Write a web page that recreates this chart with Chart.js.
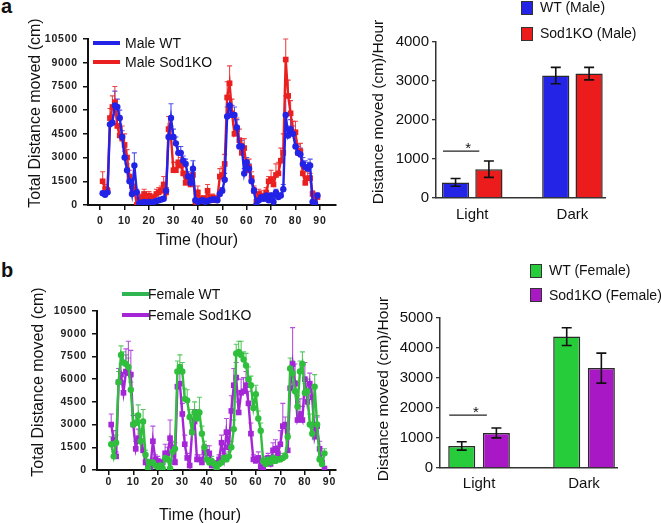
<!DOCTYPE html>
<html lang="en">
<head>
<meta charset="UTF-8">
<title>Locomotor activity WT vs Sod1KO</title>
<script src="https://cdn.jsdelivr.net/npm/chart.js"></script>
<style>
  body { margin: 0; width: 661px; height: 523px; position: relative; background: #fff; overflow: hidden;
         font-family: Arial, "Liberation Sans", Helvetica, sans-serif; color: #111; }
  canvas { position: absolute; }
  .t { position: absolute; white-space: nowrap; transform: translate(0, -50%); font-size: 14px; }
  .c { position: absolute; white-space: nowrap; transform: translate(-50%, -50%); font-size: 16px; }
  .v { position: absolute; white-space: nowrap; transform: translate(-50%, -50%) rotate(-90deg); font-size: 16px; }
  .letter { position: absolute; font-weight: bold; font-size: 20px; line-height: 20px; }
  .sw { position: absolute; width: 27px; height: 4px; transform: translate(0, -50%); }
  .sq { position: absolute; width: 10px; height: 12px; border: 1px solid #333; }
</style>
</head>
<body>

<div class="letter" style="left:1px; top:-4px;">a</div>
<div class="letter" style="left:1px; top:260px;">b</div>

<canvas id="lineA" width="340" height="255" style="left:0; top:0;"></canvas>
<canvas id="barA" width="321" height="255" style="left:340px; top:0;"></canvas>
<canvas id="lineB" width="340" height="258" style="left:0; top:265px;"></canvas>
<canvas id="barB" width="321" height="258" style="left:340px; top:265px;"></canvas>

<!-- axis titles -->
<div class="v" style="left:35px; top:113px;">Total Distance moved (cm)</div>
<div class="c" style="left:197px; top:240px;">Time (hour)</div>
<div class="v" style="left:378px; top:112px; font-size:15.5px;">Distance moved (cm)/Hour</div>
<div class="v" style="left:38px; top:382px;">Total Distance moved (cm)</div>
<div class="c" style="left:200px; top:515px;">Time (hour)</div>
<div class="v" style="left:383px; top:389px; font-size:15.5px;">Distance moved (cm)/Hour</div>

<!-- legends -->
<div class="sw" style="left:93px; top:43px; background:#2323e8;"></div>
<div class="t" style="left:125px; top:43px;">Male WT</div>
<div class="sw" style="left:93px; top:62px; background:#ea2020;"></div>
<div class="t" style="left:125px; top:62px;">Male Sod1KO</div>

<div class="sw" style="left:122px; top:294px; background:#2fb552;"></div>
<div class="t" style="left:148px; top:294px;">Female WT</div>
<div class="sw" style="left:122px; top:315px; background:#a426d6;"></div>
<div class="t" style="left:148px; top:315px;">Female Sod1KO</div>

<div class="sq" style="left:521px; top:1px; background:#2424e6;"></div>
<div class="t" style="left:540px; top:7px;">WT (Male)</div>
<div class="sq" style="left:521px; top:27px; background:#ec1c1c;"></div>
<div class="t" style="left:540px; top:33px;">Sod1KO (Male)</div>

<div class="sq" style="left:530px; top:264px; background:#27cc3a;"></div>
<div class="t" style="left:549px; top:270px;">WT (Female)</div>
<div class="sq" style="left:530px; top:288px; background:#a818c4;"></div>
<div class="t" style="left:549px; top:295px;">Sod1KO (Female)</div>

<script>
// ---- time course data (hourly means, upward SEM) ----
var hoursMale = [1, 2, 3, 4, 5, 6, 7, 8, 9, 10,
  11, 12, 13, 14, 15, 16, 17, 18, 19, 20,
  21, 22, 23, 24, 25, 26, 27, 28, 29, 30,
  31, 32, 33, 34, 35, 36, 37, 38, 39, 40,
  41, 42, 43, 44, 45, 46, 47, 48, 49, 50,
  51, 52, 53, 54, 55, 56, 57, 58, 59, 60,
  61, 62, 63, 64, 65, 66, 67, 68, 69, 70,
  71, 72, 73, 74, 75, 76, 77, 78, 79, 80,
  81, 82, 83, 84, 85, 86, 87, 88, 89];
var hoursFemale = [1, 2, 3, 4, 5, 6, 7, 8, 9, 10,
  11, 12, 13, 14, 15, 16, 17, 18, 19, 20,
  21, 22, 23, 24, 25, 26, 27, 28, 29, 30,
  31, 32, 33, 34, 35, 36, 37, 38, 39, 40,
  41, 42, 43, 44, 45, 46, 47, 48, 49, 50,
  51, 52, 53, 54, 55, 56, 57, 58, 59, 60,
  61, 62, 63, 64, 65, 66, 67, 68, 69, 70,
  71, 72, 73, 74, 75, 76, 77, 78, 79, 80,
  81, 82, 83, 84, 85, 86, 87, 88];
var timeTicks = [0, 10, 20, 30, 40, 50, 60, 70, 80, 90];
var distTicks = [0, 1500, 3000, 4500, 6000, 7500, 9000, 10500];

var maleWT = [750, 650, 800, 5100, 5200, 6300, 6200, 5500, 4300, 3000,
  2200, 1500, 700, 2500, 800, 100, 150, 200, 150, 200,
  150, 200, 250, 300, 350, 400, 900, 4300, 5500, 4300,
  3900, 3300, 3300, 2800, 2600, 1800, 1400, 2300, 300, 200,
  250, 300, 200, 250, 300, 350, 350, 300, 700, 900,
  1600, 5600, 6300, 5700, 5700, 4900, 3700, 3700, 2000, 2700,
  2300, 1500, 900, 0, 300, 500, 400, 600, 300, 600,
  200, 800, 500, 600, 1000, 5700, 4400, 4800, 4500, 3700,
  3300, 3200, 2600, 2400, 2300, 2500, 200, 100, 600];
var maleWTErr = [100, 100, 150, 500, 500, 900, 500, 500, 400, 400,
  400, 300, 200, 800, 200, 50, 50, 60, 50, 60,
  50, 60, 60, 80, 80, 100, 200, 500, 900, 500,
  400, 400, 400, 300, 300, 300, 200, 500, 100, 80,
  80, 100, 80, 80, 100, 100, 100, 100, 200, 200,
  400, 600, 400, 600, 500, 500, 400, 400, 300, 300,
  300, 300, 200, 50, 100, 150, 100, 150, 100, 150,
  80, 200, 150, 150, 300, 1200, 600, 600, 500, 400,
  400, 400, 400, 400, 400, 400, 100, 50, 150];
var maleKO = [1500, 1000, 900, 5500, 6200, 6500, 5000, 4400, 4200, 3800,
  3000, 1800, 1200, 1000, 0, 300, 500, 700, 300, 600,
  500, 400, 700, 800, 900, 1300, 800, 4800, 4300, 2200,
  2200, 2700, 2500, 2000, 1400, 1600, 1300, 1900, 200, 800,
  300, 400, 300, 900, 400, 500, 300, 400, 1800, 1900,
  2600, 6800, 7700, 5800, 4500, 4800, 4100, 3300, 3600, 2200,
  2400, 1700, 900, 200, 700, 600, 400, 800, 1500, 1600,
  1300, 1900, 2000, 2800, 3300, 9200, 6900, 5800, 4600, 4600,
  3300, 3400, 2000, 1400, 1700, 1700, 700, 300, 500];
var maleKOErr = [600, 300, 200, 600, 700, 1000, 800, 700, 800, 700,
  500, 400, 400, 300, 50, 100, 200, 300, 150, 250,
  200, 200, 300, 300, 300, 500, 300, 800, 700, 500,
  500, 500, 500, 400, 400, 400, 300, 400, 80, 400,
  100, 200, 150, 400, 200, 200, 150, 200, 500, 500,
  600, 1000, 1100, 900, 600, 700, 700, 600, 600, 500,
  500, 400, 300, 100, 300, 300, 200, 300, 300, 600,
  500, 700, 700, 800, 1200, 1300, 1000, 800, 700, 700,
  500, 500, 400, 400, 400, 300, 200, 200, 200];

var femaleWT = [1700, 900, 1800, 5800, 7600, 7100, 7000, 6800, 5300, 3000,
  3100, 3600, 1900, 3200, 1000, 100, 500, 500, 300, 200,
  300, 100, 800, 700, 100, 1200, 1400, 6500, 6800, 6500,
  4700, 4600, 3500, 2500, 3800, 3400, 3800, 2400, 1500, 700,
  500, 600, 400, 100, 400, 500, 800, 700, 900, 1500,
  2700, 7700, 7800, 7600, 7300, 6900, 6000, 5600, 4100, 5000,
  3400, 2600, 600, 400, 700, 500, 800, 600, 700, 700,
  800, 900, 2200, 6700, 6400, 5200, 4200, 6500, 7000, 5100,
  5200, 3000, 2400, 5500, 3000, 700, 400, 1100];
var femaleWTErr = [500, 300, 500, 700, 600, 700, 600, 600, 500, 600,
  600, 700, 500, 800, 300, 100, 200, 200, 100, 100,
  100, 100, 300, 200, 100, 300, 400, 700, 800, 600,
  700, 700, 500, 600, 700, 600, 1000, 500, 400, 300,
  200, 300, 200, 100, 200, 200, 300, 300, 300, 400,
  600, 600, 700, 900, 500, 800, 800, 600, 600, 600,
  500, 500, 200, 100, 200, 200, 200, 200, 200, 200,
  300, 200, 500, 700, 800, 700, 700, 700, 800, 600,
  800, 700, 700, 800, 600, 200, 300, 300];
var femaleKO = [3000, 2000, 900, 5800, 6300, 5100, 6500, 6400, 6300, 3000,
  1400, 2100, 1900, 1300, 500, 300, 200, 1900, 700, 600,
  200, 500, 1100, 1100, 2100, 1500, 500, 5500, 5700, 3700,
  1700, 800, 300, 2500, 3200, 700, 700, 500, 1200, 1200,
  1100, 300, 300, 400, 700, 1800, 800, 2500, 1500, 3900,
  5600, 6100, 3800, 5100, 5200, 5600, 4400, 2400, 700, 600,
  800, 200, 100, 600, 800, 400, 1300, 1400, 1100, 1700,
  2900, 3000, 1300, 5400, 7000, 5700, 3300, 3700, 3300, 6000,
  4500, 5700, 4800, 2200, 2900, 1400, 500, 100];
var femaleKOErr = [700, 600, 300, 900, 700, 800, 1500, 2100, 1600, 600,
  500, 600, 700, 400, 200, 100, 100, 1000, 300, 300,
  100, 200, 600, 400, 1200, 400, 200, 900, 700, 700,
  600, 300, 100, 900, 800, 300, 300, 200, 500, 400,
  500, 200, 200, 200, 300, 500, 300, 900, 400, 1000,
  1100, 1000, 700, 900, 900, 900, 800, 700, 300, 300,
  400, 100, 100, 300, 300, 300, 500, 600, 500, 900,
  1500, 500, 1100, 1200, 2400, 1300, 1200, 1000, 900, 1100,
  800, 700, 800, 800, 600, 500, 300, 100];

// ---- per-hour averages by light phase ----
var periods = ['Light', 'Dark'];
var maleBarTicks = [0, 1000, 2000, 3000, 4000];
var maleBarWT = [400, 3140];
var maleBarWTErr = [100, 210];
var maleBarKO = [740, 3190];
var maleBarKOErr = [210, 160];
var maleSigLevel = 1200;

var femaleBarTicks = [0, 1000, 2000, 3000, 4000, 5000];
var femaleBarWT = [737, 4380];
var femaleBarWTErr = [140, 295];
var femaleBarKO = [1170, 3330];
var femaleBarKOErr = [165, 500];
var femaleSigLevel = 1760;

Chart.defaults.font.family = 'Arial, "Liberation Sans", Helvetica, sans-serif';
Chart.defaults.color = '#111';

// plain numbers, no thousands separator
function plain(v) { return String(v); }

// spaced-out digits like the original axis labels
var spacedTicks = {
    id: 'spacedTicks',
    beforeDraw: function (chart) { chart.ctx.letterSpacing = '0.8px'; }
};

// error bars: upward whiskers for the time course, both ways for the bars
var errorBars = {
    id: 'errorBars',
    beforeDatasetsDraw: function (chart, args, opts) { if (opts.before) drawErrors(chart, opts); },
    afterDatasetsDraw: function (chart, args, opts) { if (!opts.before) drawErrors(chart, opts); }
};

function drawErrors(chart, opts) {
    var ctx = chart.ctx;
    var yScale = chart.scales.y;
    chart.data.datasets.forEach(function (ds, di) {
        if (!ds.errors) return;
        var meta = chart.getDatasetMeta(di);
        ctx.save();
        ctx.strokeStyle = opts.color || ds.errColor;
        ctx.lineWidth = opts.width;
        meta.data.forEach(function (el, i) {
            var v = ds.data[i].y, e = ds.errors[i];
            var top = yScale.getPixelForValue(v + e);
            var bot = opts.both ? yScale.getPixelForValue(v - e) : el.y;
            ctx.beginPath();
            ctx.moveTo(el.x, bot);
            ctx.lineTo(el.x, top);
            ctx.moveTo(el.x - opts.cap, top);
            ctx.lineTo(el.x + opts.cap, top);
            if (opts.both) {
                ctx.moveTo(el.x - opts.cap, bot);
                ctx.lineTo(el.x + opts.cap, bot);
            }
            ctx.stroke();
        });
        ctx.restore();
    });
}

// significance bar + star over the Light pair
var sigMark = {
    id: 'sigMark',
    afterDatasetsDraw: function (chart, args, opts) {
        var ctx = chart.ctx;
        var a = chart.getDatasetMeta(0).data[0];
        var b = chart.getDatasetMeta(1).data[0];
        var yy = chart.scales.y.getPixelForValue(opts.level);
        var x1 = a.x - a.width / 2 + 1;
        var x2 = b.x - b.width / 2 + 4;
        ctx.save();
        ctx.strokeStyle = '#222';
        ctx.lineWidth = 1.3;
        ctx.beginPath();
        ctx.moveTo(x1, yy);
        ctx.lineTo(x2, yy);
        ctx.stroke();
        ctx.fillStyle = '#111';
        ctx.font = '15px Arial, "Liberation Sans", sans-serif';
        ctx.textAlign = 'center';
        ctx.textBaseline = 'alphabetic';
        ctx.fillText('*', b.x - b.width / 2 - 7, yy + 2);
        ctx.restore();
    }
};

function makeLine(id, hours, series, opt) {
    var datasets = series.map(function (s) {
        return {
            label: s.label,
            data: hours.map(function (h, i) { return { x: h, y: s.values[i] }; }),
            errors: s.errors,
            errColor: s.errColor,
            borderColor: s.color,
            backgroundColor: s.color,
            borderWidth: 2.4,
            pointStyle: s.point,
            pointRadius: s.point === 'rect' ? 4 : 3.2,
            pointBorderWidth: 0,
            tension: 0
        };
    });
    return new Chart(document.getElementById(id), {
        type: 'line',
        data: { datasets: datasets },
        plugins: [spacedTicks, errorBars],
        options: {
            responsive: false,
            animation: false,
            layout: { padding: { top: opt.top, right: 0, left: 0, bottom: 0 } },
            plugins: {
                legend: { display: false },
                tooltip: { enabled: false },
                errorBars: { before: true, cap: 2.5, width: 1.1, both: false }
            },
            scales: {
                x: {
                    type: 'linear',
                    min: opt.xmin,
                    max: opt.xmax,
                    afterBuildTicks: function (s) { s.ticks = timeTicks.map(function (v) { return { value: v }; }); },
                    afterFit: function (s) { s.height = opt.xh; },
                    grid: { drawOnChartArea: false, drawTicks: true, tickLength: 5, color: '#111', lineWidth: 1.5 },
                    border: { color: '#111', width: 2 },
                    ticks: { callback: plain, font: { size: 10.5, weight: 'bold' }, color: '#222', padding: opt.xpad, maxRotation: 0, autoSkip: false }
                },
                y: {
                    min: 0,
                    max: 10500,
                    afterBuildTicks: function (s) { s.ticks = distTicks.map(function (v) { return { value: v }; }); },
                    afterFit: function (s) { s.width = opt.yw; },
                    grid: { drawOnChartArea: false, drawTicks: true, tickLength: 5, color: '#111', lineWidth: 1.5 },
                    border: { color: '#111', width: 2 },
                    ticks: { callback: plain, font: { size: 10.5, weight: 'bold' }, color: '#222', padding: 5, autoSkip: false }
                }
            }
        }
    });
}

function makeBar(id, series, ticks, opt) {
    var datasets = series.map(function (s) {
        return {
            label: s.label,
            data: periods.map(function (p, i) { return { x: i, y: s.values[i] }; }),
            errors: s.errors,
            backgroundColor: s.color,
            borderColor: '#2a2a2a',
            borderWidth: 1.5
        };
    });
    return new Chart(document.getElementById(id), {
        type: 'bar',
        data: { datasets: datasets },
        plugins: [errorBars, sigMark],
        options: {
            responsive: false,
            animation: false,
            categoryPercentage: opt.cat,
            barPercentage: opt.bar,
            layout: { padding: { top: opt.top, right: opt.right, left: 0, bottom: 0 } },
            plugins: {
                legend: { display: false },
                tooltip: { enabled: false },
                errorBars: { before: false, cap: 5, width: 1.6, both: true, color: '#111' },
                sigMark: { level: opt.sig }
            },
            scales: {
                x: {
                    type: 'linear',
                    offset: false,
                    min: opt.xmin,
                    max: opt.xmax,
                    afterBuildTicks: function (s) { s.ticks = periods.map(function (p, i) { return { value: i }; }); },
                    afterFit: function (s) { s.height = opt.xh; },
                    grid: { display: true, offset: false, drawOnChartArea: false, drawTicks: false },
                    border: { color: '#333', width: 1.5 },
                    ticks: {
                        callback: function (v) { return periods[v]; },
                        font: { size: 15 }, color: '#111', padding: opt.xpad, maxRotation: 0, autoSkip: false
                    }
                },
                y: {
                    min: 0,
                    max: ticks[ticks.length - 1],
                    afterBuildTicks: function (s) { s.ticks = ticks.map(function (v) { return { value: v }; }); },
                    afterFit: function (s) { s.width = opt.yw; },
                    grid: { drawOnChartArea: false, drawTicks: true, tickLength: 4, color: '#333', lineWidth: 1.3 },
                    border: { color: '#333', width: 1.5 },
                    ticks: { callback: plain, font: { size: 15 }, color: '#111', padding: 3, autoSkip: false }
                }
            }
        }
    });
}

makeLine('lineA', hoursMale, [
    { label: 'Male WT', values: maleWT, errors: maleWTErr, color: '#2323e8', errColor: 'rgba(50,50,235,0.85)', point: 'circle' },
    { label: 'Male Sod1KO', values: maleKO, errors: maleKOErr, color: '#ea2020', errColor: 'rgba(235,40,40,0.85)', point: 'rect' }
], { top: 39, xh: 50, yw: 88, xmin: -5, xmax: 96.6, xpad: 5 });

makeLine('lineB', hoursFemale, [
    { label: 'Female WT', values: femaleWT, errors: femaleWTErr, color: '#2fbf3c', errColor: 'rgba(60,190,70,0.85)', point: 'circle' },
    { label: 'Female Sod1KO', values: femaleKO, errors: femaleKOErr, color: '#a426d6', errColor: 'rgba(170,50,215,0.85)', point: 'rect' }
], { top: 46, xh: 53, yw: 97, xmin: -4.8, xmax: 92.7, xpad: 1 });

makeBar('barA', [
    { label: 'WT (Male)', values: maleBarWT, errors: maleBarWTErr, color: '#2424e6' },
    { label: 'Sod1KO (Male)', values: maleBarKO, errors: maleBarKOErr, color: '#ec1c1c' }
], maleBarTicks, { top: 42, right: 56, xh: 57, yw: 96, xmin: -0.3616, xmax: 1.325, cat: 0.665, bar: 0.817, xpad: 8, sig: maleSigLevel });

makeBar('barB', [
    { label: 'WT (Female)', values: femaleBarWT, errors: femaleBarWTErr, color: '#27cc3a' },
    { label: 'Sod1KO (Female)', values: femaleBarKO, errors: femaleBarKOErr, color: '#a818c4' }
], femaleBarTicks, { top: 53, right: 44, xh: 55, yw: 100, xmin: -0.372, xmax: 1.314, cat: 0.66, bar: 0.78, xpad: 7, sig: femaleSigLevel });
</script>
</body>
</html>
